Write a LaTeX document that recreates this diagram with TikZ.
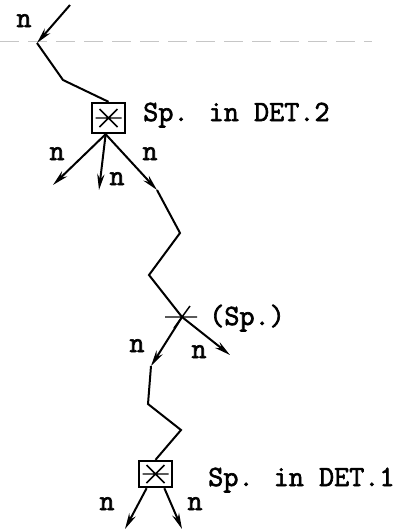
\documentclass[tikz,border=0pt]{standalone}
\usepackage{fontspec}
\newfontfamily\labfont{Latin Modern Mono}[FakeBold=2.2]
\usetikzlibrary{positioning, arrows.meta}

\begin{document}
\begin{tikzpicture}[
    x=0.75pt, y=-0.75pt,
    wire/.style={line width=1.5pt, line join=miter},
    arr/.style={wire, -{Stealth[length=12pt, width=5.5pt]}},
    lbl/.style={font=\labfont\fontsize{22}{26}\selectfont,
                inner sep=0pt},
    detbox/.style={draw, line width=1.3pt, minimum width=25pt, minimum height=23pt,
                   inner sep=0pt,
                   path picture={
                     \draw[line width=1.1pt] (path picture bounding box.center)
                       +(-13,0) -- +(13,0)
                       +(-9,-9) -- +(9,9)
                       +(-9,9) -- +(9,-9);}}
  ]
  \useasboundingbox (0,0) rectangle (414,529);

  % ruled line across the top
  \draw[gray!45, line width=0.6pt, dash pattern=on 14pt off 7pt] (0,41) -- (372,41);

  % determiner boxes and the free split point
  \node[detbox] (det2) at (108.5,118) {};
  \node[detbox, minimum height=20pt] (det1) at (155.5,474) {};
  \coordinate (sp) at (182,317);
  \draw[line width=1.1pt] (sp) +(-17,0) -- +(15,0)
        (sp) +(-8,11) -- +(8,-11);

  \node[lbl, anchor=base west] (lab2) at (143,121) {Sp. in DET.2};
  \node[lbl, anchor=base west] (lab1) at (208,486) {Sp. in DET.1};
  \node[lbl, anchor=base west] (labsp) at (209,325) {(Sp.)};

  % bends of the main path
  \coordinate (top) at (70,5);
  \coordinate (k1) at (37,43);
  \coordinate (k2) at (63,80);
  \coordinate (k3) at (157,190);
  \coordinate (k4) at (180,233);
  \coordinate (k5) at (149,275);
  \coordinate (k6) at (151,366);
  \coordinate (k7) at (148,404);
  \coordinate (k8) at (181,430);

  % loose ends
  \coordinate (l2) at (53,185);
  \coordinate (m2) at (99,190);
  \coordinate (r6) at (230,355);
  \coordinate (l1) at (125,529);
  \coordinate (r1) at (182,529);

  \draw[arr] (top) -- (k1);
  \draw[wire] (k1) -- (k2) -- (det2.north);

  \draw[arr] (det2.-100) -- (l2);
  \draw[arr] (det2.-100) -- (m2);
  \draw[arr] (det2.-100) -- (k3);
  \draw[wire] (k3) -- (k4) -- (k5) -- (sp);

  \draw[arr] (sp) -- (k6);
  \draw[arr] (sp) -- (r6);
  \draw[wire] (k6) -- (k7) -- (k8) -- (det1.north);

  \draw[arr] (det1.-122) -- (l1);
  \draw[arr] (det1.-58) -- (r1);

  % n labels
  \node[lbl, anchor=base] (n0) at (24,27) {n};
  \node[lbl, anchor=base] (n21) at (57,160) {n};
  \node[lbl, anchor=base] (n22) at (117,185) {n};
  \node[lbl, anchor=base] (n23) at (150,160) {n};
  \node[lbl, anchor=base] (n31) at (137,352) {n};
  \node[lbl, anchor=base] (n32) at (199,358) {n};
  \node[lbl, anchor=base] (n11) at (107,510) {n};
  \node[lbl, anchor=base] (n12) at (195,510) {n};
\end{tikzpicture}
\end{document}
